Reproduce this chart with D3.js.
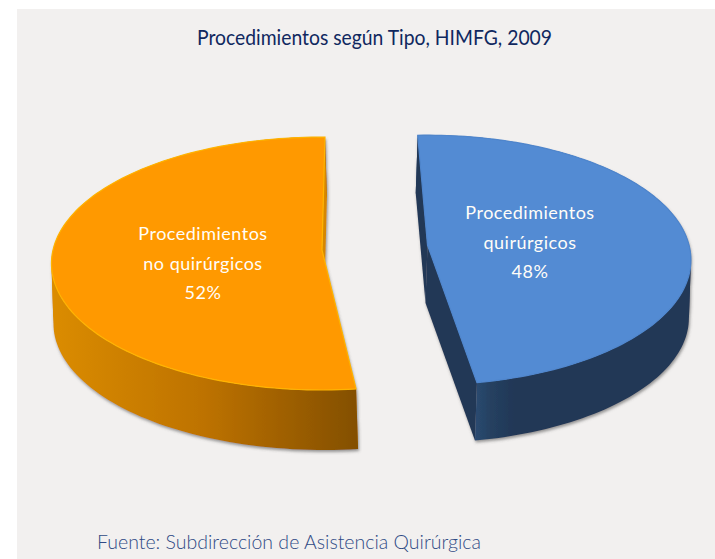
<!DOCTYPE html>
<html><head><meta charset="utf-8">
<script src="https://cdn.jsdelivr.net/npm/d3@7/dist/d3.min.js"></script>
<style>html,body{margin:0;padding:0;background:#fff}svg{display:block}</style>
</head><body><script>
const titleText = "Procedimientos según Tipo, HIMFG, 2009";
const sourceText = "Fuente: Subdirección de Asistencia Quirúrgica";
const categories = ["Procedimientos quirúrgicos", "Procedimientos no quirúrgicos"];
const values = [48, 52];
const labelLines = [["Procedimientos", "quirúrgicos", "48%"], ["Procedimientos", "no quirúrgicos", "52%"]];

const W = 715, H = 559;
const layout = [
  {cx:427.5, cy:245, R:261.5, Ry:123, p:.12, rot:-2.4, dx:-2, depth:58, top:"#538bd3", rim:"#4f86cd", inner:"#223757",
   wall:[[0,"#2a4a71"],[.08,"#25405f"],[.18,"#223757"],[1,"#223757"]], gx:[475,692], lx:530, ly:[219,249,278]},
  {cx:322, cy:250, R:269, Ry:125, p:.107, rot:.7, dx:2, depth:60, top:"#ff9900", rim:"#ffb400", inner:"#d68700",
   wall:[[0,"#db8c00"],[.5,"#bd7200"],[1,"#834f00"]], gx:[52,358], lx:203, ly:[240,270,299]}
];

const svg = d3.select("body").append("svg").attr("width",W).attr("height",H)
  .style("font-family","'Lato','Noto Sans',sans-serif");
const defs = svg.append("defs");
const f = defs.append("filter").attr("id","sh").attr("x","-5%").attr("y","-5%").attr("width","110%").attr("height","115%");
f.append("feDropShadow").attr("dx",1).attr("dy",2).attr("stdDeviation",1.6).attr("flood-color","#555").attr("flood-opacity",.6);
const soft = defs.append("filter").attr("id","soft");
soft.append("feGaussianBlur").attr("stdDeviation",.5);

svg.append("rect").attr("x",17).attr("y",9).attr("width",W-17).attr("height",H-9).attr("fill","#f2f0ef");

const arcs = d3.pie().sort(null).value(d=>d)(values);
const line = d3.line();

arcs.forEach((a,i)=>{
  const L = layout[i];
  const sx = d3.scaleLinear().domain([0,1]).range([L.cx, L.cx+L.R]);
  const sy = d3.scaleLinear().domain([0,1]).range([L.cy, L.cy-L.Ry]);
  const project = (u,v)=>{const s=1/(1+L.p*v); return [sx(u*s), sy(v*s)];};
  const rad = L.rot*Math.PI/180;
  const a0=a.startAngle+rad, a1=a.endAngle+rad;
  const rim = d3.range(0,121).map(k=>{const t=a0+(a1-a0)*k/120; return project(Math.sin(t),Math.cos(t));});
  const apex = project(0,0);
  const outline = [apex,...rim,apex];
  const shift = p=>[p[0]+L.dx,p[1]+L.depth];
  const ribbon = pts=>line([...pts,...pts.slice().reverse().map(shift)])+"Z";
  const cross = (p,q)=>Math.sign((q[0]-p[0])*L.depth-(q[1]-p[1])*L.dx);
  const runs=[]; let cur=[rim[0]], last=null;
  d3.pairs(rim).forEach(([p,q])=>{
    const c=cross(p,q);
    if(last!==null && c!==last){runs.push(cur); cur=[p];}
    cur.push(q); last=c;
  });
  runs.push(cur);
  const g = svg.append("g").attr("class","slice").attr("data-category",categories[i]);
  const gid = "wall"+i;
  const lg = defs.append("linearGradient").attr("id",gid).attr("gradientUnits","userSpaceOnUse")
    .attr("x1",L.gx[0]).attr("x2",L.gx[1]).attr("y1",0).attr("y2",0);
  L.wall.forEach(s=>lg.append("stop").attr("offset",s[0]).attr("stop-color",s[1]));
  const [nearEnd, farEnd] = rim[0][1] > rim[120][1] ? [rim[0], rim[120]] : [rim[120], rim[0]];
  const walls = g.append("g").attr("filter","url(#sh)");
  walls.append("path").attr("d",ribbon([nearEnd,apex])).attr("fill",L.inner);
  walls.selectAll("path.side").data(runs).join("path").attr("class","side")
    .attr("d",ribbon).attr("fill",`url(#${gid})`);
  walls.append("path").attr("d",ribbon([apex,farEnd])).attr("fill",L.inner);
  g.append("path").attr("d",line(outline)+"Z").attr("fill",L.top).attr("stroke",L.rim).attr("stroke-width",1.2).attr("filter","url(#soft)");
  g.selectAll("text").data(labelLines[i]).join("text")
    .attr("x",L.lx).attr("y",(d,k)=>L.ly[k]).attr("text-anchor","middle")
    .attr("fill","#fffdf8").attr("font-size",18).attr("font-weight",400).attr("letter-spacing",.5).text(d=>d);
});

svg.append("text").attr("x",197).attr("y",45).attr("font-size",21).attr("fill","#10285f").attr("font-weight",400)
  .attr("textLength",355).attr("lengthAdjust","spacingAndGlyphs").text(titleText);
svg.append("text").attr("x",97).attr("y",549).attr("font-size",20).attr("fill","#2f4a85").attr("font-weight",300)
  .attr("textLength",384).attr("lengthAdjust","spacingAndGlyphs").text(sourceText);
</script></body></html>
